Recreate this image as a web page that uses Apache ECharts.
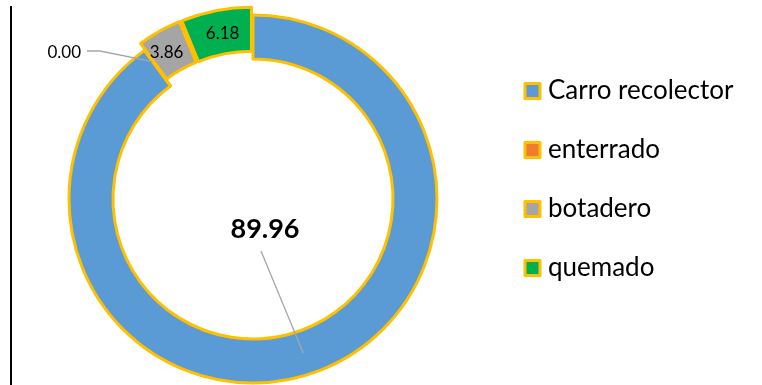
<!DOCTYPE html>
<html>
<head>
<meta charset="utf-8">
<script src="https://cdn.jsdelivr.net/npm/echarts@6/dist/echarts.min.js"></script>
<style>
  html, body { margin: 0; padding: 0; background: #ffffff; }
  #chart { width: 762px; height: 385px; }
</style>
</head>
<body>
<div id="chart"></div>
<script>
// Destino de los residuos (%)
const categories = ['Carro recolector', 'enterrado', 'botadero', 'quemado'];
const values = [89.96, 0.00, 3.86, 6.18];
const colors = ['#5B9BD5', '#ED7D31', '#A5A5A5', '#00B050'];
const exploded = [false, false, true, true];

const GOLD = '#FFC000';
const LEADER = '#A6A6A6';
const FONT = 'Lato';
const CENTER = [253, 199];
const RADIUS = [140, 184];
const OFFSET = 8;

// angle (degrees, clockwise from 12 o'clock) at the middle of each slice
const total = values.reduce((a, b) => a + b, 0);
const midAngles = [];
let acc = 0;
values.forEach(v => {
  midAngles.push((acc + v / 2) / total * 360);
  acc += v;
});
function polar(angleDeg, r) {
  const a = angleDeg * Math.PI / 180;
  return [CENTER[0] + r * Math.sin(a), CENTER[1] - r * Math.cos(a)];
}
const midR = (RADIUS[0] + RADIUS[1]) / 2;

// label placement for the two labels set away from their slices
const bigLabelPos = [CENTER[0] + 12, CENTER[1] + 30];
const bigLineEnd = [CENTER[0] + 8, CENTER[1] + 52];
const zeroLabelPos = [81, 53];
// small nudges for the labels drawn inside the exploded slices
const insideNudge = { 2: [-2, 5], 3: [3, 4] };

const chart = echarts.init(document.getElementById('chart'));

const data = categories.map((name, i) => {
  const inside = i >= 2;
  return {
    name: name,
    value: values[i],
    selected: exploded[i],
    itemStyle: { color: colors[i] },
    label: inside
      ? { position: 'inside', fontSize: 17, color: '#000000', fontFamily: FONT }
      : (i === 0
          ? { position: 'outside', fontSize: 27, fontWeight: 'bold', color: '#000000', fontFamily: FONT }
          : { position: 'outside', fontSize: 17, color: '#000000', fontFamily: FONT }),
    labelLine: { show: false }
  };
});

// leader lines, drawn over the ring
const carroAnchor = polar(midAngles[0], midR);
const zeroAnchor = polar(midAngles[1], midR + OFFSET);
const leaders = [
  [carroAnchor, bigLineEnd],
  [zeroAnchor, [100, 51], [87, 51]]
].map(points => ({
  type: 'polyline',
  z: 100,
  shape: { points: points },
  style: { stroke: LEADER, lineWidth: 1.3, fill: null }
}));

chart.setOption({
  animation: false,
  backgroundColor: '#ffffff',
  graphic: [{
    type: 'line',
    shape: { x1: 11, y1: 6, x2: 11, y2: 385 },
    style: { stroke: '#000000', lineWidth: 2 }
  }].concat(leaders),
  legend: {
    orient: 'vertical',
    left: 518.5,
    top: 73,
    itemGap: 33,
    icon: 'rect',
    itemWidth: 15,
    itemHeight: 15,
    itemStyle: { borderColor: GOLD, borderWidth: 3 },
    selectedMode: false,
    textStyle: { fontFamily: FONT, fontSize: 26, color: '#000000', padding: [0, 0, 0, 3] },
    data: categories
  },
  series: [{
    type: 'pie',
    center: CENTER,
    radius: RADIUS,
    startAngle: 90,
    clockwise: true,
    avoidLabelOverlap: false,
    selectedMode: 'multiple',
    selectedOffset: OFFSET,
    itemStyle: { borderColor: GOLD, borderWidth: 3 },
    emphasis: { disabled: true },
    select: { itemStyle: { borderColor: GOLD, borderWidth: 3 } },
    label: {
      formatter: p => p.value.toFixed(2)
    },
    labelLayout: function (params) {
      const i = params.dataIndex;
      if (i === 0) {
        return { x: bigLabelPos[0], y: bigLabelPos[1], align: 'center', verticalAlign: 'middle' };
      }
      if (i === 1) {
        return { x: zeroLabelPos[0], y: zeroLabelPos[1], align: 'right', verticalAlign: 'middle' };
      }
      const nudge = insideNudge[i];
      return nudge ? { dx: nudge[0], dy: nudge[1] } : {};
    },
    data: data
  }]
});
</script>
</body>
</html>
